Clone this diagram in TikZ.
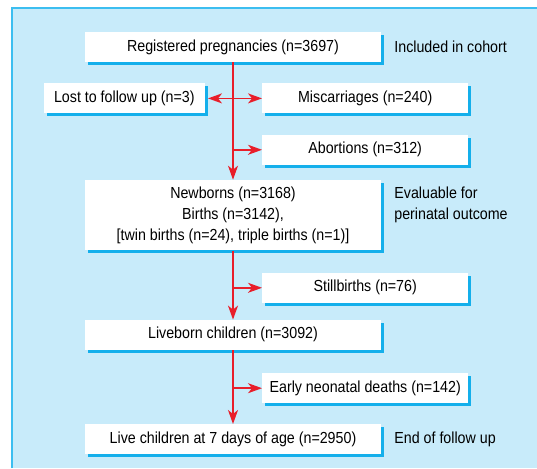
\documentclass[tikz,border=0pt]{standalone}
\usepackage{fontspec}
\setmainfont{Liberation Sans}[FakeStretch=0.89]
\usetikzlibrary{positioning,shadows,arrows.meta}
\definecolor{panelblue}{RGB}{200,235,250}
\definecolor{edgeblue}{RGB}{60,190,240}
\definecolor{shadeblue}{RGB}{20,175,235}
\definecolor{flowred}{RGB}{232,30,42}
\tikzset{
	stage/.style={fill=white, inner sep=0pt, minimum width=296pt, minimum height=30pt, align=center,
		drop shadow={shadow xshift=3pt, shadow yshift=-3pt, fill=shadeblue, opacity=1}},
	exclusion/.style={stage, minimum width=206pt},
	note/.style={align=left, inner sep=0pt},
	flow/.style={draw=flowred, line width=1.6pt, -{Stealth[length=14pt,width=10pt,inset=4pt]}},
}

\begin{document}
\begin{tikzpicture}[x=1pt, y=1pt, font=\fontsize{16}{21}\selectfont]
		\useasboundingbox (0,0) rectangle (537,-468);
		% Background panel
		\fill[panelblue] (11,-7) rectangle (537,-468);
		\draw[edgeblue, line width=2pt] (12,-468) -- (12,-8) -- (537,-8);
		
		% Define nodes
		\node[stage] (reg) at (233,-47) {Registered pregnancies (n=3697)};
		\node[exclusion, below right=21pt and 29pt of reg.south] (misc) {Miscarriages (n=240)};
		\node[exclusion, minimum width=161pt, left=57pt of misc] (lost) {Lost to follow up (n=3)};
		\node[exclusion, below=21pt of misc] (abort) {Abortions (n=312)};
		\node[stage, minimum height=70.5pt, below=117.5pt of reg] (newb) {Newborns (n=3168)\\Births (n=3142),\\{[}twin births (n=24), triple births (n=1)]};
		\node[exclusion, below right=22pt and 29pt of newb.south] (still) {Stillbirths (n=76)};
		\node[stage, below=69pt of newb] (liveb) {Liveborn children (n=3092)};
		\node[exclusion, below right=23pt and 29pt of liveb.south] (early) {Early neonatal deaths (n=142)};
		\node[stage, below=74pt of liveb] (alive) {Live children at 7 days of age (n=2950)};
		
		% Side notes
		\node[note, right=13pt of reg] (cohort) {Included in cohort};
		\node[note, below right=7pt and 13pt of newb.north east] (eval) {Evaluable for\\perinatal outcome};
		\node[note, right=13pt of alive] (endfu) {End of follow up};
		
		% Connect the nodes
		\draw[flow] (reg) -- (newb);
		\draw[flow] (newb) -- (liveb);
		\draw[flow] (liveb) -- (alive);
		\draw[flow] (reg.south |- misc.west) -- (misc);
		\draw[flow] (reg.south |- lost.east) -- ([xshift=3pt]lost.east);
		\draw[flow] (reg.south |- abort.west) -- (abort);
		\draw[flow] (newb.south |- still.west) -- (still);
		\draw[flow] (liveb.south |- early.west) -- (early);
	\end{tikzpicture}
\end{document}
